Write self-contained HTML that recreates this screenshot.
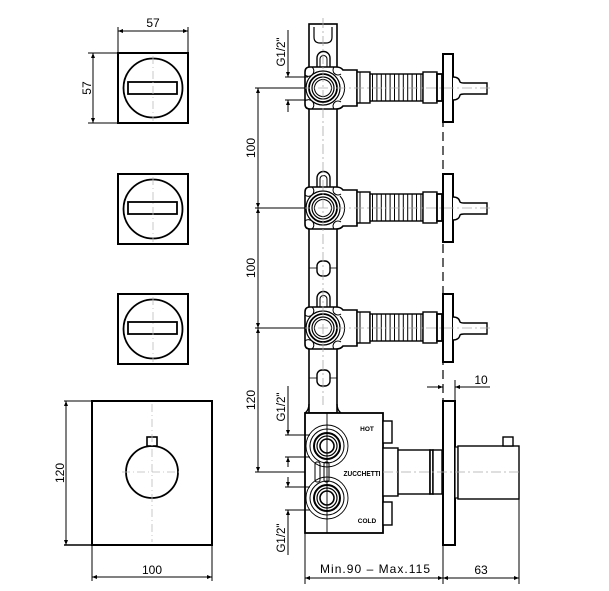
<!DOCTYPE html>
<html>
<head>
<meta charset="utf-8">
<style>
  html,body{margin:0;padding:0;background:#fff;}
  svg{display:block;}
  text{font-family:"Liberation Sans",sans-serif;fill:#000;}
</style>
</head>
<body>
<svg width="609" height="591" viewBox="0 0 609 591" xmlns="http://www.w3.org/2000/svg">
  <defs>
    <marker id="ar" viewBox="0 0 10 10" refX="10" refY="5" markerWidth="7" markerHeight="5" orient="auto-start-reverse" markerUnits="userSpaceOnUse">
      <path d="M0,1 L10,5 L0,9 z" fill="#000"/>
    </marker>
    <g id="valve">
      <!-- slot above body -->
      <path d="M317,-20 L317,-30 A6.5,6.5 0 0 1 330,-30 L330,-20" fill="#fff" stroke="#000" stroke-width="1.4"/>
      <path d="M320,-20 L320,-29 A3.5,3.5 0 0 1 327,-29 L327,-20" fill="none" stroke="#000" stroke-width="1"/>
      <!-- body -->
      <path d="M305,-16 Q305,-21 310,-21 L336,-21 Q341,-21 343,-18 L357,-18 L357,18 L343,18 Q341,21 336,21 L310,21 Q305,21 305,16 Z" fill="#fff" stroke="#000" stroke-width="1.6"/>
      <path d="M305,-13 A5,5 0 0 0 312,-21 M334,-21 A5,5 0 0 0 341,-14 M305,13 A5,5 0 0 1 312,21 M334,21 A5,5 0 0 1 341,14" fill="none" stroke="#000" stroke-width="1"/>
      <path d="M340,-12 A18,18 0 0 1 340,12" fill="none" stroke="#000" stroke-width="1"/>
      <circle cx="323" cy="0" r="17" fill="#fff" stroke="#000" stroke-width="1.2"/>
      <circle cx="323" cy="0" r="14" fill="none" stroke="#000" stroke-width="1.8"/>
      <circle cx="323" cy="0" r="11" fill="none" stroke="#000" stroke-width="1.2"/>
      <circle cx="323" cy="0" r="8.5" fill="none" stroke="#000" stroke-width="1"/>
      <!-- coupling -->
      <rect x="357" y="-16" width="13" height="31" fill="#fff" stroke="#000" stroke-width="1.4"/>
      <line x1="360" y1="-16" x2="360" y2="15" stroke="#000" stroke-width="1"/>
      <!-- ribbed -->
      <rect x="370" y="-14" width="53" height="27" fill="#fff" stroke="#000" stroke-width="1.4"/>
      <path d="M372.5,-14V13 M376.9,-14V13 M381.3,-14V13 M385.7,-14V13 M390.1,-14V13 M394.5,-14V13 M398.9,-14V13 M403.3,-14V13 M407.7,-14V13 M412.1,-14V13 M416.5,-14V13 M420.9,-14V13" stroke="#000" stroke-width="1"/>
      <!-- section -->
      <rect x="423" y="-16" width="14" height="31" fill="#fff" stroke="#000" stroke-width="1.4"/>
      <rect x="437" y="-14" width="5" height="27" fill="#fff" stroke="#000" stroke-width="1.8"/>
      <!-- flange -->
      <rect x="443" y="-34" width="10" height="68" fill="#fff" stroke="#000" stroke-width="2"/>
      <!-- stem -->
      <path d="M453,-11 Q459,-11 460,-6 Q461,-5 464,-5 L487,-5 L487,6 L464,6 Q461,6 460,7 Q459,12 453,12" fill="#fff" stroke="#000" stroke-width="1.4"/>
    </g>
  </defs>

  <!-- ============ LEFT: small squares ============ -->
  <g fill="none" stroke="#000">
    <!-- square 1 -->
    <rect x="118" y="53" width="70" height="70" stroke-width="2"/>
    <circle cx="153" cy="88" r="29.5" stroke-width="1.8"/>
    <rect x="128" y="82" width="49" height="12" stroke-width="1.8"/>
    <!-- square 2 -->
    <rect x="118" y="174" width="70" height="70" stroke-width="2"/>
    <circle cx="153" cy="209" r="29.5" stroke-width="1.8"/>
    <rect x="128" y="202" width="49" height="12" stroke-width="1.8"/>
    <!-- square 3 -->
    <rect x="118" y="294" width="70" height="70" stroke-width="2"/>
    <circle cx="153" cy="329" r="29.5" stroke-width="1.8"/>
    <rect x="128" y="322" width="49" height="12" stroke-width="1.8"/>
  </g>
  <g stroke="#bbb" stroke-width="0.8" stroke-dasharray="8,3,1,3" fill="none">
    <line x1="153" y1="56" x2="153" y2="121"/>
    <line x1="153" y1="177" x2="153" y2="242"/>
    <line x1="153" y1="297" x2="153" y2="362"/>
  </g>
  <!-- dims square 1 -->
  <g stroke="#000" stroke-width="1" fill="none">
    <line x1="118" y1="27" x2="118" y2="53"/>
    <line x1="188" y1="27" x2="188" y2="53"/>
    <line x1="118" y1="31" x2="188" y2="31" marker-start="url(#ar)" marker-end="url(#ar)"/>
    <line x1="88" y1="53" x2="118" y2="53"/>
    <line x1="88" y1="123" x2="118" y2="123"/>
    <line x1="93" y1="53" x2="93" y2="123" marker-start="url(#ar)" marker-end="url(#ar)"/>
  </g>
  <text x="153" y="27" font-size="12" text-anchor="middle">57</text>
  <text x="91" y="88" font-size="12" text-anchor="middle" transform="rotate(-90 91 88)">57</text>

  <!-- ============ big square ============ -->
  <rect x="92" y="401" width="120" height="144" fill="none" stroke="#000" stroke-width="2"/>
  <circle cx="152" cy="472" r="26" fill="none" stroke="#000" stroke-width="1.8"/>
  <rect x="147" y="437" width="10" height="9" fill="#fff" stroke="#000" stroke-width="1.6"/>
  <g stroke="#bbb" stroke-width="0.8" stroke-dasharray="8,3,1,3" fill="none">
    <line x1="152" y1="404" x2="152" y2="542"/>
    <line x1="122" y1="472" x2="182" y2="472"/>
  </g>
  <g stroke="#000" stroke-width="1" fill="none">
    <line x1="64" y1="401" x2="92" y2="401"/>
    <line x1="64" y1="545" x2="92" y2="545" stroke-width="1.6"/>
    <line x1="66" y1="401" x2="66" y2="545" marker-start="url(#ar)" marker-end="url(#ar)"/>
    <line x1="92" y1="545" x2="92" y2="581"/>
    <line x1="212" y1="545" x2="212" y2="581"/>
    <line x1="92" y1="577" x2="212" y2="577" marker-start="url(#ar)" marker-end="url(#ar)"/>
  </g>
  <text x="64" y="473" font-size="12" text-anchor="middle" transform="rotate(-90 64 473)">120</text>
  <text x="152" y="574" font-size="12" text-anchor="middle">100</text>

  <!-- ============ CENTRAL ASSEMBLY ============ -->
  <!-- dashed vertical line -->
  <line x1="443" y1="118" x2="443" y2="401" stroke="#000" stroke-width="1.2" stroke-dasharray="9,5"/>
  <!-- pipe -->
  <rect x="309" y="24" width="28" height="389" fill="#fff" stroke="#000" stroke-width="1.6"/>
  <path d="M314,27 L314,37 Q314,43 320,43 L326,43 Q332,43 332,37 L332,27" fill="none" stroke="#000" stroke-width="1.2"/>
  <!-- holes -->
  <rect x="317" y="261" width="13" height="15" rx="5" fill="#fff" stroke="#000" stroke-width="1.4"/>
  <rect x="317" y="370" width="13" height="16" rx="5" fill="#fff" stroke="#000" stroke-width="1.4"/>
  <g stroke="#000" stroke-width="0.8">
    <line x1="309" y1="268" x2="317" y2="268"/><line x1="330" y1="268" x2="337" y2="268"/>
    <line x1="309" y1="378" x2="317" y2="378"/><line x1="330" y1="378" x2="337" y2="378"/>
  </g>

  <!-- valves -->
  <use href="#valve" transform="translate(0,88)"/>
  <use href="#valve" transform="translate(0,208)"/>
  <use href="#valve" transform="translate(0,328)"/>

  <!-- bottom body -->
  <path d="M309,404 Q309,410 305,413 M337,404 Q337,410 341,413" fill="none" stroke="#000" stroke-width="1.4"/>
  <rect x="305" y="413" width="78" height="120" fill="#fff" stroke="#000" stroke-width="1.8"/>
  <g fill="none" stroke="#000">
    <circle cx="327" cy="446" r="21" stroke-width="0.9"/>
    <circle cx="327" cy="446" r="17" stroke-width="1"/>
    <circle cx="327" cy="446" r="13" stroke-width="2"/>
    <circle cx="327" cy="446" r="10" stroke-width="1.2"/>
    <circle cx="327" cy="446" r="7" stroke-width="1.6"/>
    <circle cx="327" cy="498" r="21" stroke-width="0.9"/>
    <circle cx="327" cy="498" r="17" stroke-width="1"/>
    <circle cx="327" cy="498" r="13" stroke-width="2"/>
    <circle cx="327" cy="498" r="10" stroke-width="1.2"/>
    <circle cx="327" cy="498" r="7" stroke-width="1.6"/>
    <rect x="315" y="462" width="5" height="20" rx="2" stroke-width="1"/>
    <rect x="324" y="462" width="5" height="20" rx="2" stroke-width="1"/>
    <line x1="327" y1="413" x2="327" y2="533" stroke-width="0.9"/>
  </g>
  <text x="367" y="431" font-size="6.5" font-weight="bold" text-anchor="middle">HOT</text>
  <text x="362" y="476" font-size="7" font-weight="bold" text-anchor="middle" textLength="37" lengthAdjust="spacingAndGlyphs">ZUCCHETTI</text>
  <text x="367" y="523" font-size="6.5" font-weight="bold" text-anchor="middle">COLD</text>

  <!-- nuts -->
  <rect x="383" y="421" width="9" height="22" fill="#fff" stroke="#000" stroke-width="1.4"/>
  <rect x="383" y="502" width="9" height="23" fill="#fff" stroke="#000" stroke-width="1.4"/>
  <!-- cylinder -->
  <rect x="383" y="448" width="15" height="48" fill="#fff" stroke="#000" stroke-width="1.4"/>
  <rect x="398" y="450" width="32" height="44" fill="#fff" stroke="#000" stroke-width="1.4"/>
  <rect x="430" y="450" width="3" height="44" fill="#fff" stroke="#000" stroke-width="1.6"/>
  <rect x="433" y="450" width="9" height="44" fill="#fff" stroke="#000" stroke-width="1.4"/>
  <!-- flange bottom -->
  <rect x="443" y="401" width="12" height="144" fill="#fff" stroke="#000" stroke-width="2"/>
  <rect x="455" y="447" width="3" height="51" fill="#fff" stroke="#000" stroke-width="1.2"/>
  <rect x="458" y="446" width="61" height="53" fill="#fff" stroke="#000" stroke-width="1.4"/>
  <rect x="503" y="437" width="10" height="9" fill="#fff" stroke="#000" stroke-width="1.4"/>

  <!-- center lines -->
  <g stroke="#aaa" stroke-width="0.8" stroke-dasharray="10,3,2,3" fill="none">
    <line x1="323" y1="18" x2="323" y2="405"/>
    <line x1="300" y1="88" x2="492" y2="88"/>
    <line x1="300" y1="208" x2="492" y2="208"/>
    <line x1="300" y1="328" x2="492" y2="328"/>
    <line x1="383" y1="472" x2="522" y2="472"/>
  </g>

  <!-- left dims of central -->
  <g stroke="#000" stroke-width="1" fill="none">
    <line x1="255" y1="88" x2="305" y2="88"/>
    <line x1="255" y1="208" x2="305" y2="208"/>
    <line x1="255" y1="328" x2="305" y2="328"/>
    <line x1="255" y1="472" x2="305" y2="472"/>
    <line x1="258" y1="88" x2="258" y2="208" marker-start="url(#ar)" marker-end="url(#ar)"/>
    <line x1="258" y1="208" x2="258" y2="328" marker-start="url(#ar)" marker-end="url(#ar)"/>
    <line x1="258" y1="328" x2="258" y2="472" marker-start="url(#ar)" marker-end="url(#ar)"/>
    <!-- G1/2 top -->
    <line x1="285" y1="77" x2="308" y2="77"/>
    <line x1="285" y1="100" x2="308" y2="100"/>
    <line x1="288" y1="30" x2="288" y2="77" marker-end="url(#ar)"/>
    <line x1="288" y1="112" x2="288" y2="100" marker-end="url(#ar)"/>
    <!-- G1/2 hot -->
    <line x1="285" y1="435" x2="310" y2="435"/>
    <line x1="285" y1="457" x2="310" y2="457"/>
    <line x1="288" y1="386" x2="288" y2="435" marker-end="url(#ar)"/>
    <line x1="288" y1="467" x2="288" y2="457" marker-end="url(#ar)"/>
    <!-- G1/2 cold -->
    <line x1="285" y1="487" x2="310" y2="487"/>
    <line x1="285" y1="510" x2="310" y2="510"/>
    <line x1="288" y1="477" x2="288" y2="487" marker-end="url(#ar)"/>
    <line x1="288" y1="555" x2="288" y2="510" marker-end="url(#ar)"/>
    <!-- dim 10 -->
    <line x1="455" y1="380" x2="455" y2="401"/>
    <line x1="427" y1="387" x2="443" y2="387" marker-end="url(#ar)"/>
    <line x1="490" y1="387" x2="455" y2="387" marker-end="url(#ar)"/>
    <!-- bottom dims -->
    <line x1="305" y1="533" x2="305" y2="584"/>
    <line x1="443" y1="545" x2="443" y2="584"/>
    <line x1="519" y1="499" x2="519" y2="584"/>
    <line x1="305" y1="578" x2="443" y2="578" marker-start="url(#ar)" marker-end="url(#ar)"/>
    <line x1="443" y1="578" x2="519" y2="578" marker-start="url(#ar)" marker-end="url(#ar)"/>
  </g>
  <text x="255" y="148" font-size="12" text-anchor="middle" transform="rotate(-90 255 148)">100</text>
  <text x="255" y="268" font-size="12" text-anchor="middle" transform="rotate(-90 255 268)">100</text>
  <text x="255" y="400" font-size="12" text-anchor="middle" transform="rotate(-90 255 400)">120</text>
  <text x="285" y="52" font-size="11.5" text-anchor="middle" transform="rotate(-90 285 52)">G1/2"</text>
  <text x="285" y="407" font-size="11.5" text-anchor="middle" transform="rotate(-90 285 407)">G1/2"</text>
  <text x="285" y="538" font-size="11.5" text-anchor="middle" transform="rotate(-90 285 538)">G1/2"</text>
  <text x="481" y="384" font-size="12" text-anchor="middle">10</text>
  <text x="375" y="573" font-size="12" text-anchor="middle" textLength="110" lengthAdjust="spacing">Min.90  –  Max.115</text>
  <text x="481" y="574" font-size="12" text-anchor="middle">63</text>
</svg>
</body>
</html>
